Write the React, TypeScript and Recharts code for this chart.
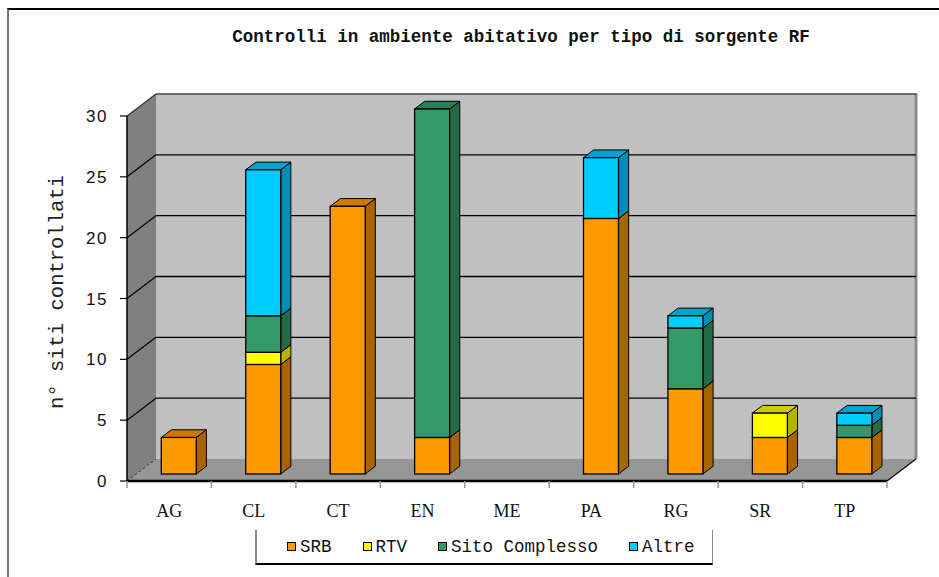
import React from 'react';
import { BarChart, Bar, XAxis, YAxis, CartesianGrid } from 'recharts';

// ---- data ----
const categories = ['AG', 'CL', 'CT', 'EN', 'ME', 'PA', 'RG', 'SR', 'TP'];
const srb = [3, 9, 22, 3, 0, 21, 7, 3, 3];
const rtv = [0, 1, 0, 0, 0, 0, 0, 2, 0];
const sitoComplesso = [0, 3, 0, 27, 0, 0, 5, 0, 1];
const altre = [0, 12, 0, 0, 0, 5, 1, 0, 1];
const yTicks = [0, 5, 10, 15, 20, 25, 30];

const title = 'Controlli in ambiente abitativo per tipo di sorgente RF';
const yLabel = 'n° siti controllati';

const series = [
  { key: 'SRB', name: 'SRB', values: srb, front: '#FF9900', side: '#A86400', top: '#CC7A00' },
  { key: 'RTV', name: 'RTV', values: rtv, front: '#FFFF00', side: '#B3B300', top: '#CCCC00' },
  { key: 'Sito', name: 'Sito Complesso', values: sitoComplesso, front: '#339966', side: '#236B47', top: '#2A7D53' },
  { key: 'Altre', name: 'Altre', values: altre, front: '#00CCFF', side: '#008DB3', top: '#00A3CC' },
];

const data = categories.map((c, i) => {
  const row: any = { cat: c };
  series.forEach((s) => (row[s.key] = s.values[i]));
  return row;
});

// ---- layout ----
const W = 939;
const H = 577;
const ML = 67; // + 60 y-axis width => plot left 127
const MR = 52;
const MT = 116;
const MB = 66; // + 30 x-axis height => plot bottom 481
const PLOT_LEFT = ML + 60;
const PLOT_W = W - PLOT_LEFT - MR;
const PLOT_BOTTOM = H - MB - 30;
const BAND = PLOT_W / categories.length;

// 3D depth
const DX = 29;
const DY = 22;
const OFF = 0.32; // bar front plane depth fraction
const DEPTH = 0.35; // bar depth fraction
const OX = DX * OFF;
const OY = DY * OFF;
const BDX = DX * DEPTH;
const BDY = DY * DEPTH;

const mono = '"Liberation Mono", "DejaVu Sans Mono", monospace';

const makeShape = (s: any) => (props: any) => {
  const { x, y, width, height } = props;
  if (!height || Math.abs(height) < 0.5) return <g />;
  const fx = x + OX;
  const fy = y - OY;
  const w = width;
  const h = height;
  return (
    <g>
      <polygon
        points={`${fx + w},${fy} ${fx + w + BDX},${fy - BDY} ${fx + w + BDX},${fy + h - BDY} ${fx + w},${fy + h}`}
        fill={s.side}
        stroke="#000"
        strokeWidth={1}
        strokeLinejoin="round"
      />
      <polygon
        points={`${fx},${fy} ${fx + BDX},${fy - BDY} ${fx + w + BDX},${fy - BDY} ${fx + w},${fy}`}
        fill={s.top}
        stroke="#000"
        strokeWidth={1}
        strokeLinejoin="round"
      />
      <rect x={fx} y={fy} width={w} height={h} fill={s.front} stroke="#000" strokeWidth={1.3} />
    </g>
  );
};

const gridLine = (p: any) => {
  const { x, y, width, height, y1, index } = p;
  const isBottom = Math.abs(y1 - (y + height)) < 1;
  const isTop = Math.abs(y1 - y) < 1;
  const bx = x + DX;
  const walls =
    index === 0 ? (
      <g>
        {/* left wall */}
        <polygon
          points={`${x},${y} ${bx},${y - DY} ${bx},${y + height - DY} ${x},${y + height}`}
          fill="#808080"
        />
        {/* back wall */}
        <rect x={bx} y={y - DY} width={width} height={height} fill="#C0C0C0" />
        <line x1={bx + width} y1={y - DY} x2={bx + width} y2={y + height - DY} stroke="#8c8c8c" strokeWidth={3} />
        {/* floor */}
        <polygon
          points={`${x},${y + height} ${bx},${y + height - DY} ${bx + width},${y + height - DY} ${x + width},${y + height}`}
          fill="#969696"
        />
        <line x1={x + width} y1={y + height} x2={bx + width} y2={y + height - DY} stroke="#000" strokeWidth={1.2} />
      </g>
    ) : null;
  let lines;
  if (isBottom) {
    lines = (
      <line x1={x} y1={y1} x2={bx} y2={y1 - DY} stroke="#333" strokeWidth={1} strokeDasharray="3 2" />
    );
  } else if (isTop) {
    lines = (
      <g>
        <line x1={bx} y1={y1 - DY} x2={bx + width + 1} y2={y1 - DY} stroke="#444" strokeWidth={1.5} />
        <line x1={x} y1={y1} x2={bx} y2={y1 - DY} stroke="#333" strokeWidth={1.2} />
      </g>
    );
  } else {
    lines = (
      <g>
        <line x1={bx} y1={y1 - DY} x2={bx + width} y2={y1 - DY} stroke="#000" strokeWidth={1.3} />
        <line x1={x} y1={y1} x2={bx} y2={y1 - DY} stroke="#000" strokeWidth={1.2} />
      </g>
    );
  }
  return (
    <g key={`gl-${index}`}>
      {walls}
      {lines}
    </g>
  );
};

const XTick = (p: any) => {
  const { x, payload, index } = p;
  const half = BAND / 2;
  const isLast = index === categories.length - 1;
  return (
    <g>
      <line x1={x - half} y1={PLOT_BOTTOM} x2={x - half} y2={PLOT_BOTTOM + 7} stroke="#999" strokeWidth={1.5} />
      {isLast && (
        <line x1={x + half} y1={PLOT_BOTTOM} x2={x + half} y2={PLOT_BOTTOM + 7} stroke="#999" strokeWidth={1.5} />
      )}
      <text
        x={x}
        y={PLOT_BOTTOM + 36}
        textAnchor="middle"
        fontFamily='"Liberation Serif", serif'
        fontSize={18}
        fill="#111"
      >
        {payload.value}
      </text>
    </g>
  );
};

const YLabel = (p: any) => {
  return (
    <text
      x={63}
      y={292}
      transform="rotate(-90 63 292)"
      textAnchor="middle"
      fontFamily={mono}
      fontSize={20.5}
      fill="#222"
    >
      {yLabel}
    </text>
  );
};

export default function App() {
  return (
    <div style={{ position: 'absolute', left: 0, top: 0, width: W, height: H, background: '#fff', overflow: 'hidden' }}>
      <div
        style={{
          position: 'absolute',
          left: 7,
          top: 8,
          width: W,
          height: H,
          borderTop: '2px solid #000',
          borderLeft: '2px solid #777',
        }}
      />
      <div
        style={{
          position: 'absolute',
          left: 221,
          top: 27,
          width: 600,
          textAlign: 'center',
          fontFamily: mono,
          fontSize: 17.5,
          fontWeight: 'bold',
          color: '#111',
          whiteSpace: 'pre',
          lineHeight: '20px',
        }}
      >
        {title}
      </div>
      <div style={{ position: 'absolute', left: 0, top: 0 }}>
        <BarChart width={W} height={H} data={data} margin={{ top: MT, right: MR, bottom: MB, left: ML }} barSize={35}>
          <CartesianGrid horizontal={gridLine} vertical={false} />
          <XAxis
            dataKey="cat"
            height={30}
            axisLine={{ stroke: '#000', strokeWidth: 2.5 }}
            tickLine={false}
            tick={XTick}
            interval={0}
          />
          <YAxis
            width={60}
            domain={[0, 30]}
            ticks={yTicks}
            interval={0}
            axisLine={{ stroke: '#000', strokeWidth: 1.5 }}
            tickLine={{ stroke: '#000', strokeWidth: 1.2 }}
            tickSize={7}
            tickMargin={12}
            tick={{ fontFamily: '"Liberation Sans", sans-serif', fontSize: 17, fill: '#111', letterSpacing: 1.5 }}
            label={<YLabel />}
          />
          {series.map((s) => (
            <Bar key={s.key} dataKey={s.key} name={s.name} stackId="a" isAnimationActive={false} shape={makeShape(s)} fill={s.front} />
          ))}
        </BarChart>
      </div>
      <div
        style={{
          position: 'absolute',
          left: 255,
          top: 530,
          width: 458,
          height: 35,
          borderLeft: '2px solid #888',
          borderRight: '1px solid #888',
          borderBottom: '2px solid #000',
          display: 'flex',
          alignItems: 'center',
          paddingLeft: 30,
          boxSizing: 'border-box',
          fontFamily: mono,
          fontSize: 17.5,
          color: '#111',
        }}
      >
        {series.map((s, i) => (
          <div key={s.key} style={{ display: 'flex', alignItems: 'center', marginLeft: i === 0 ? 0 : 31 }}>
            <div style={{ width: 7, height: 7, background: s.front, border: '1px solid #000', marginRight: 4 }} />
            <span style={{ whiteSpace: 'pre' }}>{s.name}</span>
          </div>
        ))}
      </div>
    </div>
  );
}
